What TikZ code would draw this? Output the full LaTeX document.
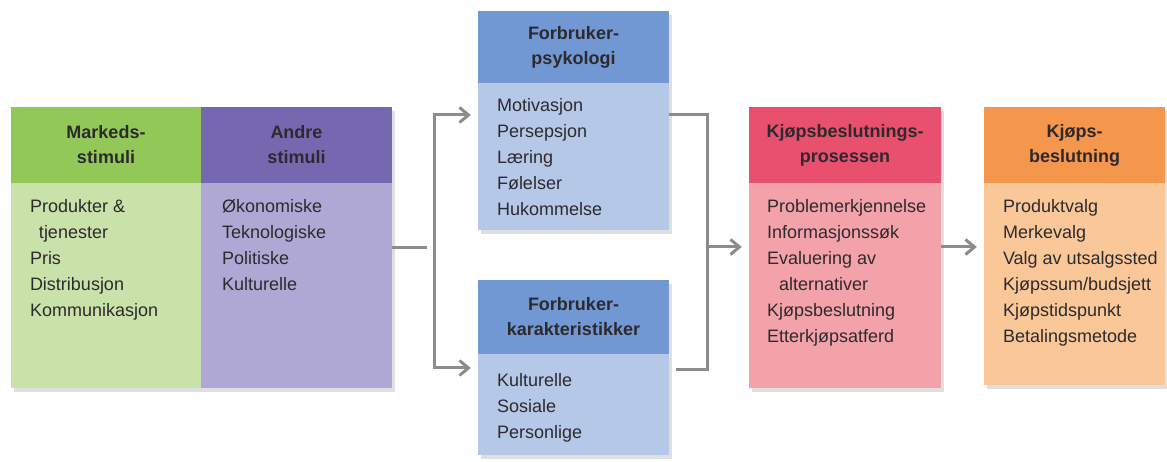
\documentclass[tikz,border=0pt]{standalone}
\usepackage{fontspec}
\setmainfont{Liberation Sans}
\usepackage{xcolor}
\usetikzlibrary{arrows.meta, shadows}
\definecolor{mkhdr}{RGB}{146,200,88}
\definecolor{mkbody}{RGB}{200,226,170}
\definecolor{anhdr}{RGB}{118,104,176}
\definecolor{anbody}{RGB}{176,168,212}
\definecolor{bluhdr}{RGB}{114,152,212}
\definecolor{blubody}{RGB}{182,200,232}
\definecolor{redhdr}{RGB}{232,80,110}
\definecolor{redbody}{RGB}{244,162,170}
\definecolor{orhdr}{RGB}{244,150,76}
\definecolor{orbody}{RGB}{250,200,152}
\definecolor{txtdark}{RGB}{45,42,45}
\definecolor{conngray}{RGB}{140,140,140}

\begin{document}
\begin{tikzpicture}[
  x=1pt, y=1pt,
  >={Straight Barb[length=9pt,width=15pt]},
  boxsh/.style={drop shadow={shadow xshift=3pt, shadow yshift=-4pt, opacity=0.25}},
  hdr/.style={rectangle, inner sep=0pt, align=center, boxsh,
    font=\fontsize{18}{25}\selectfont\bfseries, text=txtdark},
  bdy/.style={rectangle, inner sep=0pt, anchor=north, boxsh},
  items/.style={anchor=north west, inner sep=0pt, align=left,
    font=\fontsize{18}{26}\selectfont, text=txtdark},
  conn/.style={draw=conngray, line width=3pt, shorten >=7pt}
]
\useasboundingbox (0,0) rectangle (1167,462);

% ---- Stimuli (two boxes side by side) ----
\node[hdr, fill=mkhdr, minimum width=190pt, minimum height=76pt] (mkH) at (106,317) {Markeds-\\stimuli};
\node[bdy, fill=mkbody, minimum width=190pt, minimum height=205pt] (mkB) at (mkH.south) {};
\node[items] (mkT) at ([xshift=19pt, yshift=-16pt]mkB.north west) {Produkter \&\\\hspace{9pt}tjenester\\Pris\\Distribusjon\\Kommunikasjon};

\node[hdr, fill=anhdr, minimum width=191pt, minimum height=76pt] (anH) at (296.5,317) {Andre\\stimuli};
\node[bdy, fill=anbody, minimum width=191pt, minimum height=205pt] (anB) at (anH.south) {};
\node[items] (anT) at ([xshift=21pt, yshift=-16pt]anB.north west) {Økonomiske\\Teknologiske\\Politiske\\Kulturelle};

% ---- Consumer: psychology and characteristics ----
\node[hdr, fill=bluhdr, minimum width=191pt, minimum height=72pt] (psyH) at (573.5,415) {Forbruker-\\psykologi};
\node[bdy, fill=blubody, minimum width=191pt, minimum height=147pt] (psyB) at (psyH.south) {};
\node[items] (psyT) at ([xshift=19pt, yshift=-15pt]psyB.north west) {Motivasjon\\Persepsjon\\Læring\\Følelser\\Hukommelse};

\node[hdr, fill=bluhdr, minimum width=191pt, minimum height=74pt] (karH) at (573.5,145) {Forbruker-\\karakteristikker};
\node[bdy, fill=blubody, minimum width=191pt, minimum height=101pt] (karB) at (karH.south) {};
\node[items] (karT) at ([xshift=19pt, yshift=-19pt]karB.north west) {Kulturelle\\Sosiale\\Personlige};

% ---- Decision process and decision ----
\node[hdr, fill=redhdr, minimum width=192pt, minimum height=76pt] (kpH) at (845,317) {Kjøpsbeslutnings-\\prosessen};
\node[bdy, fill=redbody, minimum width=192pt, minimum height=205pt] (kpB) at (kpH.south) {};
\node[items] (kpT) at ([xshift=18pt, yshift=-16pt]kpB.north west) {Problemerkjennelse\\Informasjonssøk\\Evaluering av\\\hspace{12pt}alternativer\\Kjøpsbeslutning\\Etterkjøpsatferd};

\node[hdr, fill=orhdr, minimum width=181pt, minimum height=76pt] (kbH) at (1074.5,317) {Kjøps-\\beslutning};
\node[bdy, fill=orbody, minimum width=181pt, minimum height=202pt] (kbB) at (kbH.south) {};
\node[items] (kbT) at ([xshift=19pt, yshift=-16pt]kbB.north west) {Produktvalg\\Merkevalg\\Valg av utsalgssted\\Kjøpssum/budsjett\\Kjøpstidspunkt\\Betalingsmetode};

% ---- connectors ----
\coordinate (jL) at (434,214);
\coordinate (jLt) at (434,347);
\coordinate (jLb) at (434,94);
\coordinate (jR) at (707,215);
\coordinate (jRt) at (707,347);
\coordinate (jRb) at (707,92);
\draw[conn] (anB.east |- jL) -- (jL);
\draw[conn, ->] (jL) -- (jLt) -- (psyB.west |- jLt);
\draw[conn, ->] (jL) -- (jLb) -- (karB.west |- jLb);
\draw[conn] (psyB.east |- jRt) -- (jRt) -- (jRb) -- (karB.east |- jRb);
\draw[conn, ->] (jR) -- (kpB.west |- jR);
\draw[conn, ->] (kpB.east |- jR) -- (kbB.west |- jR);
\end{tikzpicture}
\end{document}
